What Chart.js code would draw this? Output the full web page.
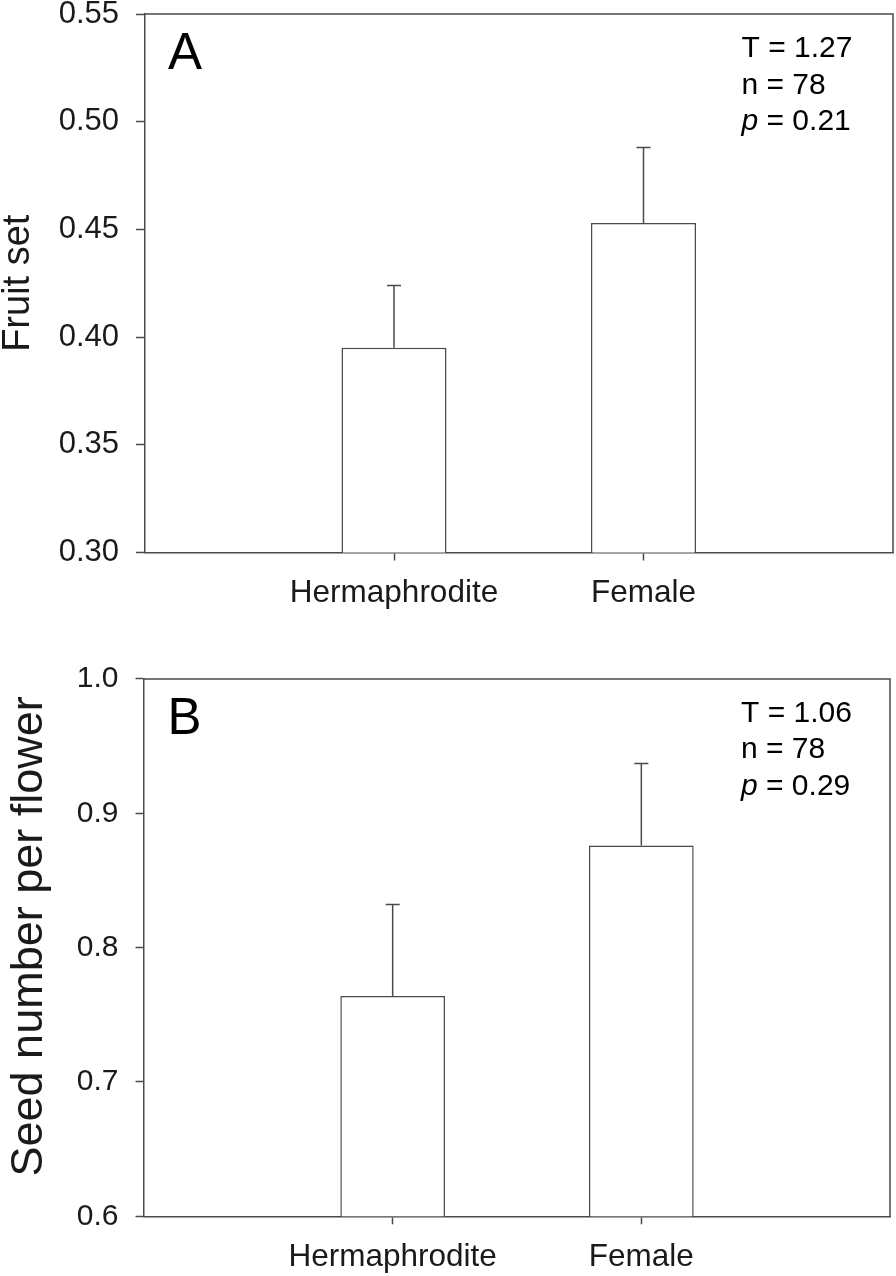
<!DOCTYPE html>
<html>
<head>
<meta charset="utf-8">
<script src="https://cdn.jsdelivr.net/npm/chart.js@4.4.0/dist/chart.umd.min.js"></script>
<style>
  html, body { margin: 0; padding: 0; background: #fff; }
  #wrap { position: relative; width: 896px; height: 1276px; }
  .panel { position: absolute; left: 0; width: 896px; }
  #p1 { top: 0; height: 640px; }
  #p2 { top: 640px; height: 636px; }
</style>
</head>
<body>
<div id="wrap">
  <div class="panel" id="p1"><canvas id="c1"></canvas></div>
  <div class="panel" id="p2"><canvas id="c2"></canvas></div>
</div>
<script>
// ---- data ----
const categories = ["Hermaphrodite", "Female"];
const categoryPositions = [1, 2];
const fruitSet = [0.395, 0.453];
const fruitSetErr = [0.029, 0.035];
const seedNumber = [0.764, 0.876];
const seedNumberErr = [0.068, 0.061];
const fruitTicks = [0.30, 0.35, 0.40, 0.45, 0.50, 0.55];
const seedTicks = [0.6, 0.7, 0.8, 0.9, 1.0];
const statsA = ["T = 1.27", "n = 78", "0.21"];
const statsB = ["T = 1.06", "n = 78", "0.29"];

const FONT = "'Liberation Sans', Arial, Helvetica, sans-serif";
const LINE = "#4a4a4a";
const TEXT = "#1a1a1a";

function makePanel(canvasId, opts) {
  const annot = {
    id: 'annot_' + canvasId,
    afterDatasetsDraw(chart) {
      const ctx = chart.ctx;
      const xs = chart.scales.x, ys = chart.scales.y;
      const ca = chart.chartArea;
      ctx.save();
      // error bars
      ctx.strokeStyle = LINE;
      ctx.lineWidth = 1.5;
      opts.values.forEach((v, i) => {
        const px = xs.getPixelForValue(categoryPositions[i]);
        const y0 = ys.getPixelForValue(v);
        const y1 = ys.getPixelForValue(v + opts.errors[i]);
        ctx.beginPath();
        ctx.moveTo(px, y0);
        ctx.lineTo(px, y1);
        ctx.moveTo(px - 7, y1);
        ctx.lineTo(px + 7, y1);
        ctx.stroke();
      });
      // frame (top & right)
      ctx.beginPath();
      ctx.moveTo(ca.left, ca.top);
      ctx.lineTo(ca.right, ca.top);
      ctx.lineTo(ca.right, ca.bottom);
      ctx.stroke();
      // panel letter
      ctx.fillStyle = "#000";
      ctx.font = "51px " + FONT;
      ctx.textBaseline = "alphabetic";
      ctx.textAlign = "left";
      ctx.fillText(opts.letter, ca.left + 23.5, ca.top + 55);
      // stats
      const fs = "30px " + FONT;
      ctx.font = fs;
      const sx = ca.left + 597;
      ctx.fillText(opts.stats[0], sx, ca.top + 43);
      ctx.fillText(opts.stats[1], sx, ca.top + 79.5);
      ctx.font = "italic " + fs;
      ctx.fillText("p", sx, ca.top + 116);
      const w = ctx.measureText("p").width;
      ctx.font = fs;
      ctx.fillText(" = " + opts.stats[2], sx + w, ca.top + 116);
      ctx.restore();
    }
  };

  return new Chart(document.getElementById(canvasId), {
    type: 'bar',
    data: {
      datasets: [{
        data: opts.values.map((v, i) => ({ x: categoryPositions[i], y: v })),
        backgroundColor: "#ffffff",
        borderColor: LINE,
        borderWidth: 1.5,
        borderSkipped: 'start',
        barPercentage: 0.421,
        categoryPercentage: 1.0
      }]
    },
    options: {
      responsive: true,
      maintainAspectRatio: false,
      animation: false,
      devicePixelRatio: 1,
      layout: { padding: { top: opts.top, right: opts.right, left: 0, bottom: 0 } },
      plugins: { legend: { display: false }, tooltip: { enabled: false } },
      scales: {
        x: {
          type: 'linear',
          min: 0, max: 3,
          offset: false,
          afterBuildTicks(scale) { scale.ticks = categoryPositions.map(v => ({ value: v })); },
          afterFit(scale) { scale.height = opts.xHeight; scale.paddingLeft = 0; scale.paddingRight = 0; },
          ticks: {
            autoSkip: false,
            maxRotation: 0,
            padding: 14,
            color: TEXT,
            font: { family: FONT, size: 31.5, lineHeight: 1.2 },
            callback: (value, index) => categories[index]
          },
          grid: { offset: false, drawOnChartArea: false, drawTicks: true, tickLength: 8, tickColor: LINE, tickWidth: 1.5 },
          border: { display: true, color: LINE, width: 1.5 }
        },
        y: {
          type: 'linear',
          min: opts.ticks[0], max: opts.ticks[opts.ticks.length - 1],
          afterBuildTicks(scale) { scale.ticks = opts.ticks.map(v => ({ value: v })); },
          afterFit(scale) { scale.width = opts.yWidth; scale.paddingTop = 0; scale.paddingBottom = 0; },
          ticks: {
            autoSkip: false,
            padding: 17,
            color: TEXT,
            font: { family: FONT, size: opts.tickSize, lineHeight: 1.0 },
            callback: (value) => Number(value).toFixed(opts.decimals)
          },
          grid: { drawOnChartArea: false, drawTicks: true, tickLength: 8.5, tickColor: LINE, tickWidth: 1.5 },
          border: { display: true, color: LINE, width: 1.5 },
          title: {
            display: true,
            text: opts.title,
            color: TEXT,
            padding: { top: opts.titlePad, bottom: 0 },
            font: { family: FONT, size: opts.titleSize, lineHeight: 1.0 }
          }
        }
      }
    },
    plugins: [annot]
  });
}

makePanel('c1', {
  values: fruitSet, errors: fruitSetErr, ticks: fruitTicks, decimals: 2, tickSize: 31,
  title: "Fruit set", titleSize: 38, titlePad: 0,
  letter: "A", stats: statsA,
  top: 14, right: 3, yWidth: 144.5, xHeight: 640 - 552.5
});

makePanel('c2', {
  values: seedNumber, errors: seedNumberErr, ticks: seedTicks, decimals: 1, tickSize: 30,
  title: "\u2002Seed number per flower", titleSize: 45, titlePad: 7,
  letter: "B", stats: statsB,
  top: 38.9, right: 6, yWidth: 144, xHeight: 636 - 576.3
});
</script>
</body>
</html>
